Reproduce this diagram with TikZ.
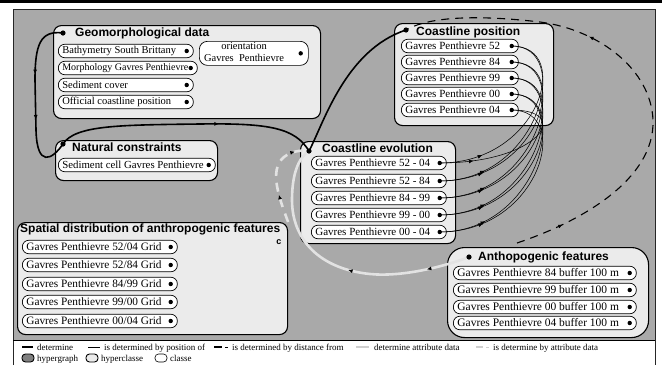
\documentclass[tikz,border=0pt]{standalone}
\usepackage{fontspec}
\setmainfont{Liberation Serif}
\setsansfont{Liberation Sans}
\usetikzlibrary{arrows.meta,decorations.markings,calc}
\definecolor{bg}{HTML}{A9A9A9}
\definecolor{hc}{HTML}{EBEBEB}
\definecolor{lgt}{HTML}{E2E2E2}
\definecolor{lgtleg}{HTML}{CFCFCF}
\def\pillsize{11}
\newcommand{\mkpill}[5]{%
  \pgfmathsetlengthmacro\pilltw{#4pt-8pt}%
  \node[cls, anchor=west, minimum width=#4pt, font=\fontsize{\pillsize}{12}\selectfont] (#1) at (#2,#3) {\makebox[\pilltw][l]{#5}};
  \coordinate (#1d) at ($(#1.east)+(-7,0)$);
  \fill (#1d) circle[radius=2.2pt];
}
\begin{document}
\begin{tikzpicture}[x=1pt,y=-1pt,
  hyper/.style={draw=black, line width=1.1pt, fill=hc, rounded corners=8pt, inner sep=0pt},
  cls/.style={draw=black, line width=0.7pt, fill=white, rounded corners=6.5pt, minimum height=13.5pt, inner xsep=4pt, inner ysep=0pt},
  ttl/.style={font=\sffamily\bfseries\fontsize{12}{14}\selectfont, inner sep=0pt, anchor=west},
  legtxt/.style={font=\fontsize{9}{10}\selectfont, inner sep=0pt, anchor=base west},
  midtip/.style={postaction={decorate,decoration={markings,mark=at position #1 with {\arrow{Latex[length=4.5pt,width=4pt,color=black]}}}}},
  detline/.style={draw=black, line width=1.6pt},
  posline/.style={draw=black, line width=0.55pt},
  distline/.style={draw=black, line width=1.1pt, dash pattern=on 8pt off 6pt},
  attrline/.style={draw=lgt, line width=2.6pt},
  attrdline/.style={draw=lgt, line width=2.6pt, dash pattern=on 9pt off 7pt},
]
\useasboundingbox (0,0) rectangle (662,365);
% frame
\fill[black] (0,0) rectangle (662,3);
\fill[bg] (13,9) rectangle (655,340);
\draw[line width=1pt, draw=black!85] (13,365) -- (13,9) -- (655,9) -- (655,365);
\draw[line width=1pt] (13,340) -- (655,340);

% ---------- hyperclasses
\node[hyper, anchor=north west, minimum width=267pt, minimum height=93pt] (geo) at (53,25) {};
\node[hyper, anchor=north west, minimum width=162pt, minimum height=40pt] (nat) at (55,140) {};
\node[hyper, anchor=north west, minimum width=159pt, minimum height=102pt] (pos) at (394,23) {};
\node[hyper, anchor=north west, minimum width=155pt, minimum height=102pt] (evo) at (300,141) {};
\node[hyper, anchor=north west, minimum width=270pt, minimum height=112pt] (spa) at (17,222) {};
\node[hyper, anchor=north west, minimum width=201pt, minimum height=90pt, rounded corners=17pt] (ant) at (447,247) {};

% titles
\node[ttl] (geot) at (75,33) {Geomorphological data};
\node[ttl] (natt) at (72,147) {Natural constraints};
\node[ttl] (post) at (416,32) {Coastline position};
\node[ttl] (evot) at (322,148) {Coastline evolution};
\node[ttl] (spat) at (20,229) {Spatial distribution of anthropogenic features};
\node[font=\sffamily\bfseries\fontsize{9}{10}\selectfont, inner sep=0pt] (spac) at (279,242) {c};
\node[ttl] (antt) at (478,257) {Anthopogenic features};
\coordinate (geod) at (63,33);
\coordinate (natd) at (63,144);
\coordinate (posd) at (406,30);
\coordinate (evod) at (309,151);
\coordinate (antd) at (469,257);

% ---------- classes
\def\pillsize{10.5}
\mkpill{g1}{58}{51}{135}{Bathymetry South Brittany}
\def\pillsize{10}
\mkpill{g2}{58}{68}{139}{Morphology Gavres Penthievre}
\def\pillsize{10.5}
\mkpill{g3}{58}{85}{135}{Sediment cover}
\mkpill{g4}{58}{102}{135}{Official coastline position}
\node[cls, anchor=north west, minimum width=109pt, minimum height=24pt, rounded corners=8pt] (ori) at (199,41) {};
\node[font=\fontsize{10.5}{12}\selectfont, align=center, inner sep=0pt] (orit) at (244,52.5) {orientation\\Gavres\ \ Penthievre};
\coordinate (orid) at ($(ori.east)+(-8,0)$); \fill (orid) circle[radius=2.2pt];

\def\pillsize{10.8}
\mkpill{n1}{58}{165}{157}{Sediment cell Gavres Penthievre}

\def\pillsize{11}
\mkpill{p1}{401}{46}{117}{Gavres Penthievre 52}
\mkpill{p2}{401}{62}{117}{Gavres Penthievre 84}
\mkpill{p3}{401}{78}{117}{Gavres Penthievre 99}
\mkpill{p4}{401}{94}{117}{Gavres Penthievre 00}
\mkpill{p5}{401}{110}{117}{Gavres Penthievre 04}

\mkpill{e1}{311}{163}{135}{Gavres Penthievre 52 - 04}
\mkpill{e2}{311}{181}{135}{Gavres Penthievre 52 - 84}
\mkpill{e3}{311}{198}{135}{Gavres Penthievre 84 - 99}
\mkpill{e4}{311}{215}{135}{Gavres Penthievre 99 - 00}
\mkpill{e5}{311}{232}{135}{Gavres Penthievre 00 - 04}

\def\pillsize{11.3}
\mkpill{s1}{22}{247}{155}{Gavres Penthievre 52/04 Grid}
\mkpill{s2}{22}{265}{155}{Gavres Penthievre 52/84 Grid}
\mkpill{s3}{22}{284}{155}{Gavres Penthievre 84/99 Grid}
\mkpill{s4}{22}{302}{155}{Gavres Penthievre 99/00 Grid}
\mkpill{s5}{22}{321}{155}{Gavres Penthievre 00/04 Grid}

\def\pillsize{11.5}
\mkpill{a1}{453}{273}{183}{Gavres Penthievre 84 buffer 100 m}
\mkpill{a2}{453}{290}{183}{Gavres Penthievre 99 buffer 100 m}
\mkpill{a3}{453}{307}{183}{Gavres Penthievre 00 buffer 100 m}
\mkpill{a4}{453}{323}{183}{Gavres Penthievre 04 buffer 100 m}

% ---------- connectors
% is determined by position of
\foreach \e/\p in {e1/p1,e1/p5,e2/p1,e2/p2,e3/p2,e3/p3,e4/p3,e4/p4,e5/p4,e5/p5}{
  \draw[posline, midtip=0.22] (\e d) .. controls ($(\e d)+(100,0)$) and ($(\p d)+(62,0)$) .. (\p d);
}
% determine attribute data (light solid)
\draw[attrline, midtip=0.16, midtip=0.45] (antd) .. controls (440,268) and (400,277) .. (370,274)
   .. controls (320,269) and (292,240) .. (292,200) .. controls (292,175) and (298,158) .. (evod);
% is determine by attribute data (light dashed)
\draw[attrdline, midtip=0.3, midtip=0.85] (spa.north east) .. controls (280,200) and (268,170) .. (284,157)
   .. controls (292,151) and (300,150) .. (evod);
% is determined by distance from (dashed)
\coordinate (dst) at (517,243);
\draw[distline, midtip=0.1, midtip=0.62] (dst)
   .. controls (580,222) and (655,180) .. (653,120)
   .. controls (651,70) and (600,30) .. (540,22)
   .. controls (480,15) and (430,16) .. (posd);
% determine (thick)
\draw[detline, midtip=0.35, midtip=0.62] (geod) .. controls (40,30) and (35,45) .. (35,80)
   -- (36,130) .. controls (37,168) and (52,160) .. (natd);
\draw[detline, midtip=0.62] (natd) .. controls (75,125) and (120,125) .. (200,124)
   .. controls (270,123) and (295,128) .. (evod);
\draw[detline] (evod) .. controls (323,125) and (345,50) .. (posd);

% hyperclass dots on top
\foreach \d in {geod,natd,posd,evod,antd}{\fill (\d) circle[radius=2.6pt];}

% ---------- legend
\draw[line width=2.6pt] (22,347) -- (33,347);
\node[legtxt] (l1) at (37,350) {determine};
\draw[line width=0.7pt] (88,347) -- (100,347);
\node[legtxt] (l2) at (104,350) {is determined by position of};
\draw[line width=2.6pt] (214,347) -- (222,347);
\draw[line width=1pt] (225,347) -- (228,347);
\node[legtxt] (l3) at (232,350) {is determined by distance from};
\draw[line width=2.6pt, lgtleg] (356,347) -- (369,347);
\node[legtxt] (l4) at (374,350) {determine attribute data};
\draw[line width=2.6pt, lgtleg] (476,347) -- (483,347);
\draw[line width=1pt, lgtleg] (486,347) -- (489,347);
\node[legtxt] (l5) at (493,350) {is determine by attribute data};

\draw[line width=0.9pt, fill=black!50, rounded corners=3.5pt] (22,354) rectangle (34,362);
\node[legtxt] (l6) at (37,361) {hypergraph};
\draw[line width=0.9pt, fill=hc, rounded corners=3.5pt] (86,354) rectangle (98,362);
\node[legtxt] (l7) at (101,361) {hyperclasse};
\draw[line width=0.6pt, fill=white, rounded corners=3.5pt] (155,354) rectangle (167,362);
\node[legtxt] (l8) at (170,361) {classe};
\end{tikzpicture}
\end{document}
